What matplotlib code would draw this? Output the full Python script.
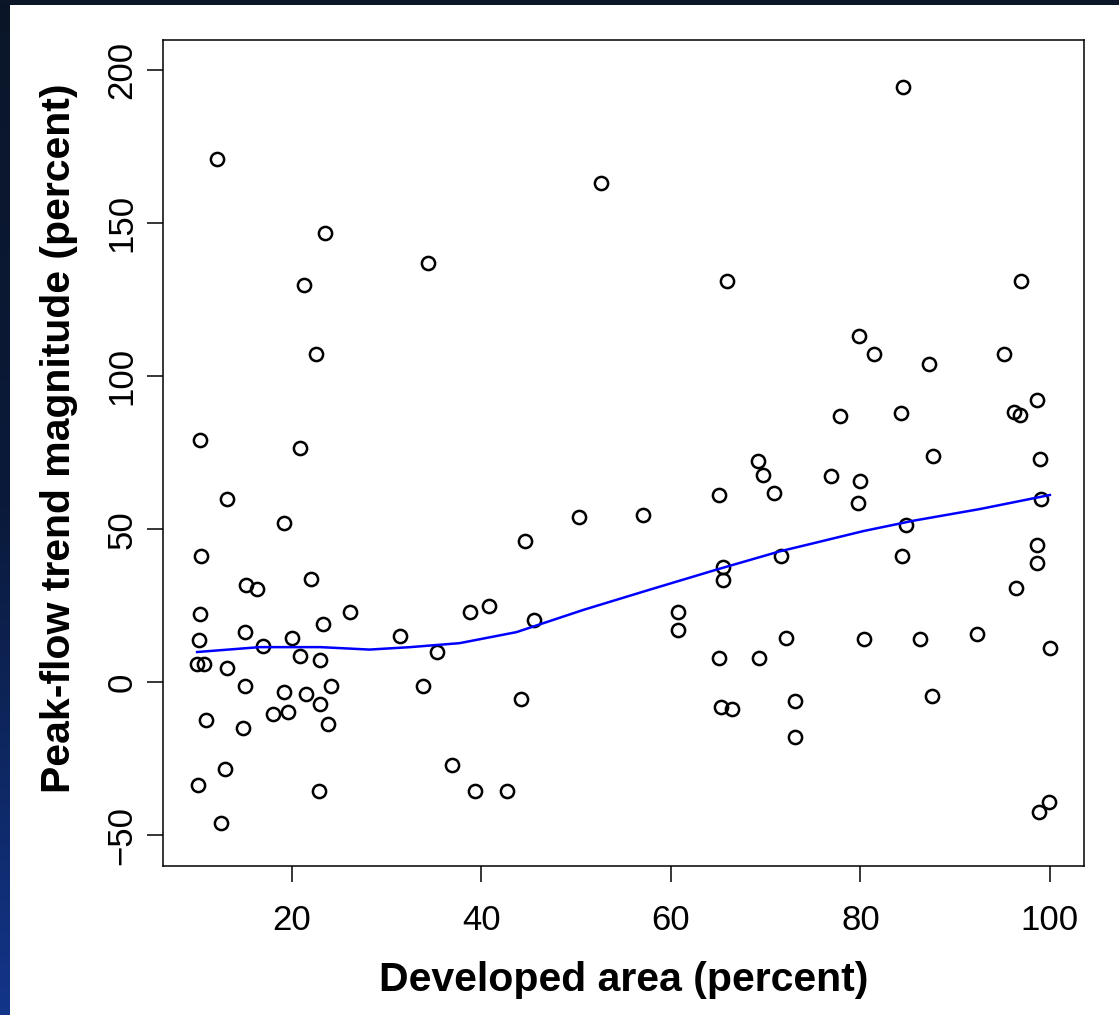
import matplotlib.pyplot as plt
import numpy as np
from matplotlib.patches import Rectangle
from matplotlib.colors import LinearSegmentedColormap

plt.rcParams['font.family'] = ['Liberation Sans', 'DejaVu Sans']

# developed area (percent) and peak-flow trend magnitude (percent)
dev_area = [10.3, 20.9, 13.2, 19.2, 10.4, 15.2, 16.3, 22.0, 10.3, 26.1,
            15.1, 23.3, 10.2, 17.0, 20.0, 31.4, 10.0, 10.7, 20.9, 23.0,
            35.3, 13.2, 15.1, 19.2, 21.5, 24.1, 33.8, 18.0, 19.6, 23.0,
            10.9, 14.8, 23.8, 36.9, 12.9, 10.1, 22.9, 12.5,
            12.1, 23.5, 21.3, 22.5, 34.4,
            52.6, 65.9, 69.2, 69.7, 70.9, 65.1, 50.3, 57.1, 44.6, 71.6,
            65.5, 65.5, 38.8, 40.8, 45.6, 60.8, 60.8, 72.2, 65.1, 69.3,
            44.2, 65.3, 66.5, 73.1, 73.1, 39.3, 42.7,
            84.5, 96.9, 79.9, 81.4, 87.2, 95.2, 77.9, 84.3, 87.7, 96.2,
            96.8, 98.6, 99.0, 99.1, 84.8, 84.4, 98.6, 98.6, 96.4, 76.9,
            80.0, 79.7, 80.4, 86.3, 92.3, 100.0, 87.6, 99.9, 98.8]
trend_mag = [79.3, 76.6, 59.8, 52.0, 41.2, 31.9, 30.4, 33.8, 22.2, 22.9,
             16.4, 18.9, 13.8, 11.8, 14.4, 15.0, 6.1, 6.1, 8.6, 7.3,
             9.8, 4.7, -1.2, -3.2, -3.8, -1.2, -1.2, -10.4, -9.7, -7.1,
             -12.2, -14.8, -13.5, -27.1, -28.3, -33.6, -35.5, -46.0,
             170.8, 146.7, 129.7, 107.2, 136.9,
             163.0, 131.2, 72.3, 67.8, 61.8, 61.2, 54.0, 54.6, 46.3, 41.2,
             37.8, 33.3, 22.9, 24.8, 20.3, 22.9, 17.1, 14.5, 8.1, 8.1,
             -5.5, -8.1, -8.7, -6.2, -17.9, -35.6, -35.6,
             194.4, 131.2, 113.3, 107.1, 104.1, 107.1, 87.0, 88.1, 74.0, 88.3,
             87.2, 92.1, 73.1, 60.0, 51.4, 41.4, 45.0, 39.0, 30.7, 67.4,
             65.7, 58.6, 14.3, 14.3, 15.7, 11.1, -4.6, -39.0, -42.5]

# smooth (lowess) curve
smooth_x = [10.0, 16.6, 23.0, 28.2, 32.5, 37.7, 43.7, 50.8, 57.8, 64.8,
            71.5, 75.0, 80.3, 85.6, 92.6, 100.0]
smooth_y = [9.9, 11.5, 11.5, 10.7, 11.5, 12.8, 16.4, 23.7, 30.3, 36.8,
            42.8, 45.4, 49.4, 52.8, 56.6, 61.2]

fig = plt.figure(figsize=(11.19, 10.15), dpi=100)
fig.patch.set_facecolor('#0b1628')

# slide background: white panel, dark top edge, gradient left edge
fig.patches.append(Rectangle((10 / 1119, 0), 1, 1 - 5 / 1015, transform=fig.transFigure,
                             facecolor='white', edgecolor='none', zorder=0))
gax = fig.add_axes([0, 0, 10 / 1119, 1])
grad = np.linspace(0, 1, 256).reshape(-1, 1)
gax.imshow(grad, aspect='auto', extent=[0, 1, 1, 0],
           cmap=LinearSegmentedColormap.from_list('edge', ['#0b1628', '#0a1a3a', '#13358a']))
gax.axis('off')

ax = fig.add_axes([163 / 1119, 1 - 866 / 1015, 921 / 1119, 826.5 / 1015])
ax.set_zorder(5)
ax.plot(dev_area, trend_mag, linestyle='none', marker='o', ms=9.5, mew=1.8,
        mfc='none', mec='black')
ax.plot(smooth_x, smooth_y, color='#0000ff', lw=1.8)

ax.set_xlim(6.4, 103.6)
ax.set_ylim(-60, 210)
ax.set_xticks([20, 40, 60, 80, 100])
ax.set_yticks([-50, 0, 50, 100, 150, 200])
for s in ax.spines.values():
    s.set_linewidth(1.1)
ax.tick_params(length=11.5, width=1.1, labelsize=25, color='black')
ax.tick_params(axis='x', pad=16)
ax.tick_params(axis='y', pad=6, labelrotation=90)
for t in ax.get_yticklabels():
    t.set_va('center')

ax.set_xlabel('Developed area (percent)', fontsize=29.5, fontweight='bold', labelpad=17)
ax.set_ylabel('Peak-flow trend magnitude (percent)', fontsize=29.5, fontweight='bold')
ax.yaxis.set_label_coords(-0.092, 0.518)

plt.savefig('out.png', dpi=100, facecolor=fig.get_facecolor())
